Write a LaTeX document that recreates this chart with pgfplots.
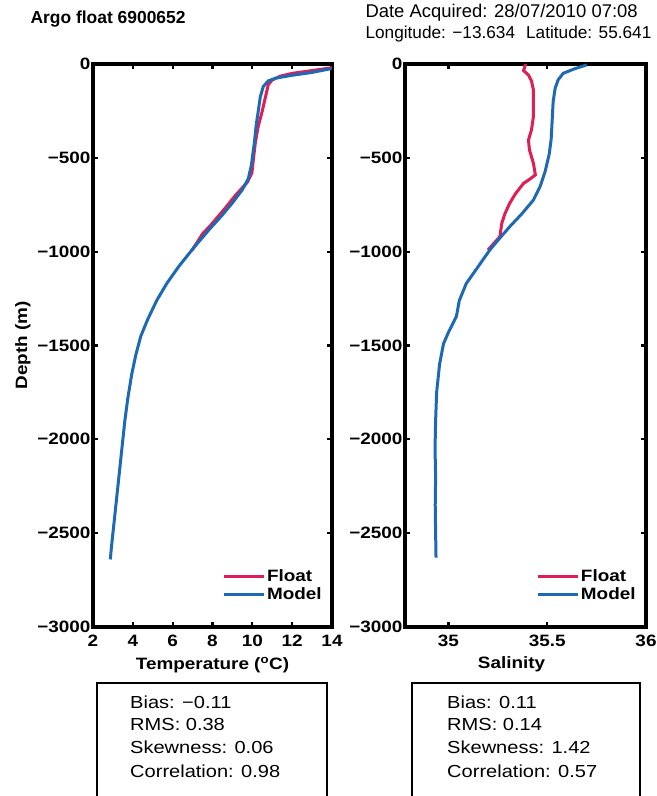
\documentclass[border=0pt]{standalone}
\usepackage{pgfplots}
\pgfplotsset{compat=1.18}
\usepackage{fontspec}
\setmainfont{Liberation Sans}
\newfontfamily\widefont[FakeStretch=1.15]{Liberation Sans}
\definecolor{flt}{RGB}{222,30,85}
\definecolor{mdl}{RGB}{30,105,180}
\pgfplotsset{
  argo/.style={
    scale only axis, anchor=south west,
    height=563bp, ymin=-3000, ymax=0,
    ytick={-3000,-2500,-2000,-1500,-1000,-500,0},
    yticklabels={−3000,−2500,−2000,−1500,−1000,−500,0},
    axis line style={line width=3.5bp},
    every tick/.style={black, line width=2.2bp},
    major tick length=5bp, tick align=inside,
    xtick pos=both, ytick pos=both,
    tick label style={font=\widefont\bfseries\fontsize{16.5}{16.5}\selectfont},
    yticklabel style={xshift=1bp},
    xticklabel style={yshift=-5bp},
    /pgf/number format/assume math mode=true,
    label style={font=\widefont\bfseries\fontsize{16.5}{16.5}\selectfont},
    xlabel style={yshift=-3bp},
    legend style={draw=none, fill=none, at={(0.97,0.04)}, anchor=south east,
      font=\widefont\bfseries\fontsize{16.5}{16.5}\selectfont, row sep=1bp, inner sep=1bp},
    legend cell align=left,
    legend image code/.code={\draw[##1, line width=2.8bp] (0bp,0bp) -- (40bp,0bp);},
  }
}
\begin{document}
\begin{tikzpicture}[x=1bp,y=1bp]
\useasboundingbox (0,0) rectangle (657,796);
\begin{axis}[argo, at={(93bp,169bp)}, width=239bp,
  xmin=2, xmax=14, xtick={2,4,...,14},
  xlabel={Temperature (\textsuperscript{o}C)}, ylabel={Depth (m)}]
\addplot[flt, line width=3bp] coordinates {
(14.0,-20) (13.0,-35) (12.0,-50) (11.4,-65) (11.0,-85) (10.8,-110) (10.65,-180)
(10.5,-250) (10.3,-330) (10.15,-420) (10.05,-510) (9.98,-580) (9.75,-630)
(9.15,-700) (8.7,-760) (8.3,-810) (7.9,-860) (7.5,-905) (7.2,-955) (6.95,-995)};
\addlegendentry{Float}
\addplot[mdl, line width=3bp] coordinates {
(13.95,-25) (13.0,-45) (12.0,-60) (11.2,-75) (10.8,-90) (10.55,-120) (10.4,-175)
(10.3,-250) (10.2,-320) (10.1,-420) (9.95,-540) (9.8,-610) (9.5,-670) (9.0,-740)
(8.45,-810) (7.85,-880) (7.25,-955) (6.9,-1000) (6.3,-1080) (5.7,-1170) (5.2,-1260)
(4.75,-1360) (4.4,-1450) (4.15,-1550) (3.95,-1650) (3.75,-1780) (3.6,-1900)
(3.45,-2050) (3.3,-2200) (3.15,-2350) (3.02,-2480) (2.92,-2580) (2.87,-2640)};
\addlegendentry{Model}
\end{axis}
\begin{axis}[argo, at={(405bp,169bp)}, width=241bp,
  xmin=34.78, xmax=36, xtick={35,35.5,36}, xticklabels={35,35.5,36},
  xlabel={Salinity}, xlabel style={xshift=-14bp}]
\addplot[flt, line width=3bp] coordinates {
(35.39,0) (35.385,-20) (35.38,-35) (35.405,-59) (35.42,-90) (35.43,-138)
(35.43,-210) (35.43,-281) (35.42,-352) (35.405,-405) (35.41,-458) (35.43,-529)
(35.44,-591) (35.41,-615) (35.38,-636) (35.34,-690) (35.31,-742) (35.285,-800)
(35.27,-849) (35.26,-920) (35.2,-991)};
\addlegendentry{Float}
\addplot[mdl, line width=3bp] coordinates {
(35.70,-5) (35.64,-25) (35.58,-50) (35.555,-85) (35.54,-130) (35.53,-200)
(35.525,-300) (35.52,-400) (35.51,-480) (35.49,-570) (35.465,-650) (35.43,-725)
(35.37,-800) (35.31,-867) (35.25,-940) (35.21,-990) (35.15,-1080) (35.09,-1170)
(35.055,-1260) (35.04,-1346) (35.0,-1430) (34.975,-1490) (34.955,-1600)
(34.94,-1750) (34.935,-1900) (34.932,-2050) (34.935,-2200) (34.933,-2350)
(34.935,-2500) (34.937,-2630)};
\addlegendentry{Model}
\end{axis}
% header
\node[anchor=west, font=\bfseries\fontsize{17.5}{17.5}\selectfont] at (27,777) {Argo float 6900652};
\node[anchor=west, font=\fontsize{18.5}{18.5}\selectfont] at (362,783) {Date Acquired: 28/07/2010 07:08};
\node[anchor=west, font=\fontsize{17.3}{17.3}\selectfont] at (362,762) {Longitude: −13.634\hspace{11bp}Latitude: 55.641};
% stats boxes
\draw[line width=1.5bp] (97,-5) rectangle (327,113);
\draw[line width=1.5bp] (412,-5) rectangle (640,113);
\begin{scope}[every node/.style={anchor=west, font=\widefont\fontsize{17.5}{17.5}\selectfont, inner sep=0pt}]
\node at (130,94) {Bias: −0.11};
\node at (130,72) {RMS: 0.38};
\node at (130,49) {Skewness: 0.06};
\node at (130,25) {Correlation: 0.98};
\node at (447,94) {Bias: 0.11};
\node at (447,72) {RMS: 0.14};
\node at (447,49) {Skewness: 1.42};
\node at (447,25) {Correlation: 0.57};
\end{scope}
\end{tikzpicture}
\end{document}
